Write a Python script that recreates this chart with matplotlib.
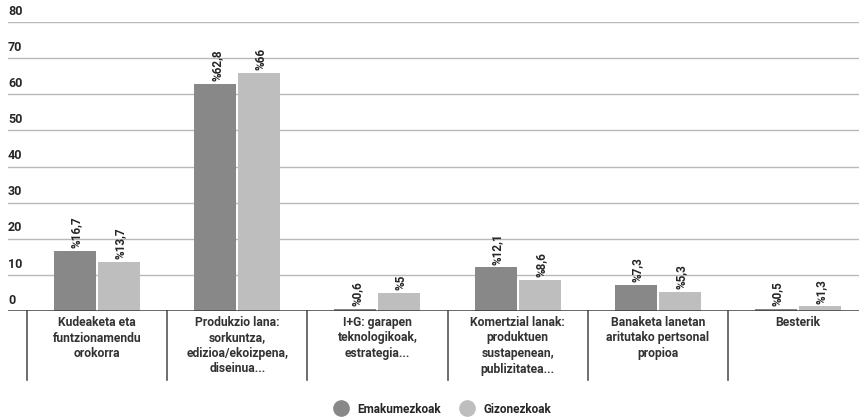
import matplotlib
matplotlib.use("Agg")
import matplotlib.pyplot as plt
from matplotlib.lines import Line2D
import matplotlib.transforms as mtransforms

plt.rcParams['font.family'] = ['Roboto', 'DejaVu Sans']

categories = [
    "Kudeaketa eta\nfuntzionamendu\norokorra",
    "Produkzio lana:\nsorkuntza,\nedizioa/ekoizpena,\ndiseinua...",
    "I+G: garapen\nteknologikoak,\nestrategia...",
    "Komertzial lanak:\nproduktuen\nsustapenean,\npublizitatea...",
    "Banaketa lanetan\naritutako pertsonal\npropioa",
    "Besterik",
]
emakumezkoak = [16.7, 62.8, 0.6, 12.1, 7.3, 0.5]
gizonezkoak = [13.7, 66, 5, 8.6, 5.3, 1.3]
emak_labels = ["%16,7", "%62,8", "%0,6", "%12,1", "%7,3", "%0,5"]
gizon_labels = ["%13,7", "%66", "%5", "%8,6", "%5,3", "%1,3"]
series_names = ["Emakumezkoak", "Gizonezkoak"]
yticks = [0, 10, 20, 30, 40, 50, 60, 70, 80]

c_dark = "#888888"
c_light = "#bebebe"
txt = "#262626"

W, H = 859, 420
fig = plt.figure(figsize=(W / 100, H / 100), dpi=100)
left_px, right_px, top_px, bot_px = 8, 859, 22, 311
ax = fig.add_axes([left_px / W, 1 - bot_px / H, (right_px - left_px) / W, (bot_px - top_px) / H])

catw = 140.0
x0 = -0.5 - (27 - left_px) / catw
x1 = 5.5 + (right_px - 868) / catw
ax.set_xlim(x0, x1)
ax.set_ylim(0, 80)

bw = 42 / catw
off = 22 / catw
xs = list(range(len(categories)))
bars1 = ax.bar([x - off for x in xs], emakumezkoak, width=bw, color=c_dark, zorder=3)
bars2 = ax.bar([x + off for x in xs], gizonezkoak, width=bw, color=c_light, zorder=3)

for bars, labels in ((bars1, emak_labels), (bars2, gizon_labels)):
    for b, lab in zip(bars, labels):
        ax.annotate(lab, (b.get_x() + b.get_width() / 2, b.get_height()), xytext=(1, 2),
                    textcoords="offset points", rotation=90, ha="center", va="bottom",
                    fontsize=8.5, fontweight="bold", color=txt, zorder=4)

# gridlines and y labels
trans_y = mtransforms.blended_transform_factory(ax.transAxes, ax.transData)
for t in yticks:
    if t == 0:
        ax.axhline(0, color="#3a3a3a", lw=1.8, zorder=5)
    else:
        ax.axhline(t, color="#b8b8b8", lw=1.0, zorder=1)
    ax.text(0.0, t + 1.2, str(t), transform=trans_y, ha="left", va="bottom",
            fontsize=9, fontweight="bold", color=txt)

for s in ax.spines.values():
    s.set_visible(False)
ax.set_xticks([])
ax.set_yticks([])

# category separators and labels
trans_x = mtransforms.blended_transform_factory(ax.transData, ax.transAxes)
sep_bottom = -(380 - bot_px) / (bot_px - top_px)
for i in range(len(categories)):
    ax.plot([i - 0.5, i - 0.5], [0, sep_bottom], transform=trans_x, color="#555555",
            lw=1.2, clip_on=False)
    ax.text(i, -(316 - bot_px) / (bot_px - top_px), categories[i], transform=trans_x,
            ha="center", va="top", fontsize=8.7, fontweight="bold", color="#333333",
            linespacing=1.25)

handles = [Line2D([], [], marker="o", ls="none", markersize=11, color=c_dark),
           Line2D([], [], marker="o", ls="none", markersize=11, color=c_light)]
leg = fig.legend(handles, series_names, loc="center", bbox_to_anchor=(0.512, 0.026),
                 ncol=2, frameon=False, handletextpad=0.4,
                 columnspacing=1.2, prop={"weight": "bold", "size": 8.5})
for t in leg.get_texts():
    t.set_color(txt)

fig.savefig("out.png", dpi=100)
